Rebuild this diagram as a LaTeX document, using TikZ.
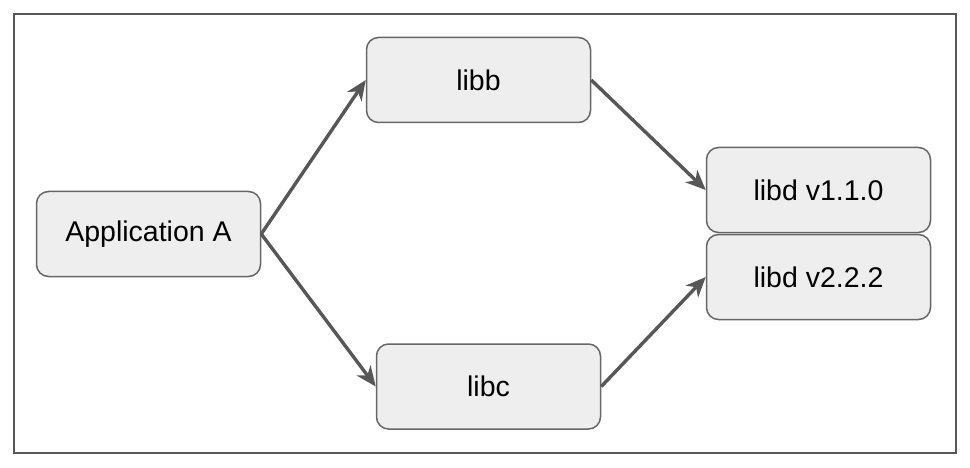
\documentclass[tikz,border=0pt]{standalone}
\usepackage{fontspec}
\setmainfont{Liberation Sans}
\usetikzlibrary{arrows.meta}
\definecolor{boxfill}{HTML}{EEEEEE}
\definecolor{boxline}{HTML}{666666}
\definecolor{arrowc}{HTML}{575757}
\begin{document}
\begin{tikzpicture}[x=1pt,y=-1pt,
  box/.style={draw=boxline,fill=boxfill,line width=1.5pt,rounded corners=12pt,
    minimum width=224pt,minimum height=85pt,inner sep=0pt,
    font=\fontsize{28.5}{34}\selectfont,text=black},
  link/.style={draw=arrowc,line width=3.4pt,-{Stealth[length=20pt,width=17pt,inset=6pt]}}]
\useasboundingbox (0,0) rectangle (970,468);
\draw[arrowc,line width=2.2pt] (14,14) rectangle (956,453);
\node[box] (app) at (148.5,234) {Application A};
\node[box] (libb) at (478.5,80) {libb};
\node[box] (libc) at (488.5,386.5) {libc};
\node[box] (d1) at (818.5,190) {libd v1.1.0};
\node[box] (d2) at (818.5,277) {libd v2.2.2};
\draw[link] (app.east) -- (libb.west);
\draw[link] (app.east) -- (libc.west);
\draw[link] (libb.east) -- (d1.west);
\draw[link] (libc.east) -- (d2.west);
\end{tikzpicture}
\end{document}
